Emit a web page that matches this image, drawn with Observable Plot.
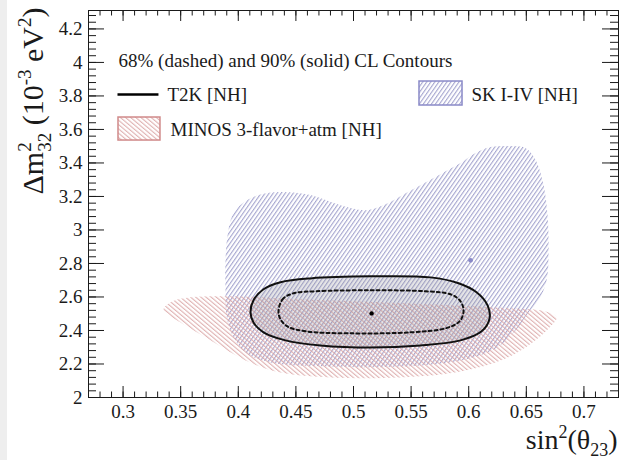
<!DOCTYPE html>
<html><head><meta charset="utf-8">
<script src="https://cdn.jsdelivr.net/npm/d3@7"></script>
<script src="https://cdn.jsdelivr.net/npm/@observablehq/plot@0.6"></script>
<style>
html,body{margin:0;padding:0;}
body{background:linear-gradient(to right,#eeeeee 0,#eeeeee 7px,#ffffff 7px);}
</style>
</head><body>
<svg width="0" height="0" style="position:absolute">
  <defs>
    <pattern id="hatchSK" patternUnits="userSpaceOnUse" width="3.3" height="3.3" patternTransform="rotate(35)">
      <line x1="0.6" y1="-1" x2="0.6" y2="4.3" stroke="#9898c8" stroke-width="0.95"/>
    </pattern>
    <pattern id="hatchMINOS" patternUnits="userSpaceOnUse" width="3.3" height="3.3" patternTransform="rotate(-50)">
      <line x1="0.6" y1="-1" x2="0.6" y2="4.3" stroke="#dba6a6" stroke-width="0.95"/>
    </pattern>
  </defs>
</svg>
<div id="chart"></div>
<script>
// ---- axes ----
const xDomain = [0.27, 0.73];
const yDomain = [2.0, 4.31];
const xMajor = [0.3, 0.35, 0.4, 0.45, 0.5, 0.55, 0.6, 0.65, 0.7];
const xTickLabels = ["0.3", "0.35", "0.4", "0.45", "0.5", "0.55", "0.6", "0.65", "0.7"];
const yMajor = [2.0, 2.2, 2.4, 2.6, 2.8, 3.0, 3.2, 3.4, 3.6, 3.8, 4.0, 4.2];
const yTickLabels = ["2", "2.2", "2.4", "2.6", "2.8", "3", "3.2", "3.4", "3.6", "3.8", "4", "4.2"];
const xMinorStep = 0.01;
const yMinorStep = 0.04;

// ---- SK I-IV [NH] 90% region ----
const skX = [0.3898,0.3889,0.3889,0.3907,0.3950,0.4037,0.4176,0.4367,0.4627,0.4888,0.5105,0.5278,0.5408,0.5582,0.5756,0.5929,0.6059,0.6190,0.6363,0.6493,0.6580,0.6650,0.6684,0.6693,0.6676,0.6606,0.6519,0.6407,0.6233,0.5929,0.5408,0.4801,0.4280,0.4063,0.3950];
const skY = [2.490,2.640,2.819,2.968,3.088,3.160,3.208,3.226,3.208,3.148,3.118,3.154,3.202,3.267,3.333,3.399,3.459,3.495,3.501,3.489,3.417,3.267,3.088,2.879,2.699,2.580,2.508,2.401,2.293,2.221,2.185,2.185,2.209,2.269,2.371];
const skBest = {x: 0.6016, y: 2.819};

// ---- MINOS 3-flavor+atm [NH] 90% region ----
const minosX = [0.3351,0.3429,0.3585,0.3933,0.4540,0.5235,0.5842,0.6363,0.6667,0.6763,0.6710,0.6554,0.6320,0.5929,0.5408,0.4801,0.4367,0.4063,0.3759,0.3499,0.3386];
const minosY = [2.526,2.574,2.598,2.604,2.586,2.568,2.550,2.532,2.514,2.478,2.424,2.329,2.233,2.155,2.120,2.120,2.149,2.221,2.341,2.448,2.496];

// ---- T2K [NH] contours ----
const t2k90X = [0.4106,0.4132,0.4219,0.4367,0.4627,0.5148,0.5669,0.5912,0.6068,0.6164,0.6181,0.6112,0.5929,0.5582,0.5148,0.4714,0.4410,0.4219,0.4132];
const t2k90Y = [2.508,2.580,2.646,2.688,2.711,2.723,2.717,2.682,2.628,2.550,2.472,2.395,2.341,2.311,2.299,2.311,2.341,2.389,2.448];
const t2k68X = [0.4349,0.4384,0.4480,0.4670,0.5148,0.5625,0.5842,0.5929,0.5955,0.5920,0.5799,0.5495,0.4974,0.4584,0.4427,0.4367];
const t2k68Y = [2.514,2.586,2.622,2.634,2.640,2.634,2.616,2.574,2.514,2.454,2.413,2.389,2.383,2.395,2.424,2.466];
const t2kBest = {x: 0.5157, y: 2.502};

// ---- texts ----
const headerText = "68% (dashed) and 90% (solid) CL Contours";
const legendLabels = ["T2K [NH]", "MINOS 3-flavor+atm [NH]", "SK I-IV [NH]"];
const xTitleParts = [{t:"sin"},{t:"2",shift:-11,size:18},{t:"(θ"},{t:"23",shift:7,size:18},{t:")"}];
const yTitleParts = [{t:"Δm"},{t:"2",shift:-12,size:19},{t:"32",shift:8,size:19,dx:-9.5},{t:" (10"},{t:"-3",shift:-12,size:19},{t:" eV"},{t:"2",shift:-12,size:19},{t:")"}];

// ---- layout ----
const W = 632, H = 460, mL = 88, mR = 14, mT = 10, mB = 63;
const innerW = W - mL - mR, innerH = H - mT - mB;
const font = "'Liberation Serif','Times New Roman',serif";

const zip = (xs, ys) => xs.map((x, i) => ({x, y: ys[i]}));
const sk = zip(skX, skY), minos = zip(minosX, minosY);
const t90 = zip(t2k90X, t2k90Y), t68 = zip(t2k68X, t2k68Y);
const rangeStep = (a, b, s) => d3.range(Math.round(a / s), Math.round(b / s) + 1).map(k => +(k * s).toFixed(4));
const xMinor = rangeStep(xDomain[0], xDomain[1], xMinorStep).filter(v => v >= xDomain[0] && v <= xDomain[1]);
const yMinor = rangeStep(yDomain[0], yDomain[1], yMinorStep).filter(v => v >= yDomain[0] && v <= yDomain[1]);

// legend placed in frame-relative (NDC) units, like ROOT TLegend
const nx = f => xDomain[0] + f * (xDomain[1] - xDomain[0]);
const ny = f => yDomain[0] + f * (yDomain[1] - yDomain[0]);

const ink = "#1a1a1a";
const chart = Plot.plot({
  width: W, height: H,
  marginLeft: mL, marginRight: mR, marginTop: mT, marginBottom: mB,
  style: {fontFamily: font, fontSize: "19px", background: "transparent", color: ink},
  x: {domain: xDomain, label: null},
  y: {domain: yDomain, label: null},
  marks: [
    // regions
    Plot.line(sk, {x: "x", y: "y", curve: "catmull-rom-closed", fill: "url(#hatchSK)", stroke: "none"}),
    Plot.line(minos, {x: "x", y: "y", curve: "catmull-rom-closed", fill: "url(#hatchMINOS)", stroke: "none"}),
    Plot.line(t90, {x: "x", y: "y", curve: "catmull-rom-closed", fill: "#8a8a92", fillOpacity: 0.22, stroke: "#111", strokeWidth: 2}),
    Plot.line(t68, {x: "x", y: "y", curve: "catmull-rom-closed", fill: "none", stroke: "#111", strokeWidth: 2, strokeDasharray: "3,3"}),
    Plot.dot([t2kBest], {x: "x", y: "y", r: 2.2, fill: "#000", stroke: "none"}),
    Plot.dot([skBest], {x: "x", y: "y", r: 2.4, fill: "#8a8ac8", stroke: "none"}),
    // inward ticks (ROOT style) on all four sides
    Plot.tickX(xMajor, {x: d => d, insetTop: innerH - 11, stroke: ink}),
    Plot.tickX(xMinor, {x: d => d, insetTop: innerH - 5.5, stroke: ink}),
    Plot.tickX(xMajor, {x: d => d, insetBottom: innerH - 11, stroke: ink}),
    Plot.tickX(xMinor, {x: d => d, insetBottom: innerH - 5.5, stroke: ink}),
    Plot.tickY(yMajor, {y: d => d, insetRight: innerW - 16, stroke: ink}),
    Plot.tickY(yMinor, {y: d => d, insetRight: innerW - 8, stroke: ink}),
    Plot.tickY(yMajor, {y: d => d, insetLeft: innerW - 16, stroke: ink}),
    Plot.tickY(yMinor, {y: d => d, insetLeft: innerW - 8, stroke: ink}),
    Plot.axisX({ticks: xMajor, tickSize: 0, tickPadding: 7, tickFormat: d => xTickLabels[xMajor.indexOf(d)], fontSize: 19}),
    Plot.axisY({ticks: yMajor, tickSize: 0, tickPadding: 6, tickFormat: d => yTickLabels[yMajor.indexOf(d)], fontSize: 19}),
    Plot.frame({stroke: ink, strokeWidth: 1}),
    // legend
    Plot.text([headerText], {x: nx(0.0566), y: ny(0.871), text: d => d, textAnchor: "start", fontSize: 19, fill: ink}),
    Plot.link([0], {x1: nx(0.0547), x2: nx(0.132), y1: ny(0.783), y2: ny(0.783), stroke: "#000", strokeWidth: 2.5}),
    Plot.text([legendLabels[0]], {x: nx(0.149), y: ny(0.783), text: d => d, textAnchor: "start", fontSize: 19, fill: ink}),
    Plot.rect([0], {x1: nx(0.0566), x2: nx(0.1358), y1: ny(0.664), y2: ny(0.7235), fill: "url(#hatchMINOS)", stroke: "#d08a8a", strokeWidth: 1.5}),
    Plot.text([legendLabels[1]], {x: nx(0.1547), y: ny(0.6925), text: d => d, textAnchor: "start", fontSize: 19, fill: ink}),
    Plot.rect([0], {x1: nx(0.6245), x2: nx(0.7057), y1: ny(0.7545), y2: ny(0.8165), fill: "url(#hatchSK)", stroke: "#8a8ac8", strokeWidth: 1.5}),
    Plot.text([legendLabels[2]], {x: nx(0.7226), y: ny(0.783), text: d => d, textAnchor: "start", fontSize: 19, fill: ink}),
    // axis titles (rich text filled in below)
    Plot.text(["x-title"], {frameAnchor: "bottom-right", dx: -1, dy: 51, text: d => d, textAnchor: "end", fontSize: 28, fill: ink, className: "xtitle"}),
    Plot.text(["y-title"], {frameAnchor: "top-left", dx: -67, dy: -3, rotate: -90, text: d => d, textAnchor: "end", fontSize: 30, fill: ink, className: "ytitle"})
  ]
});
document.getElementById("chart").appendChild(chart);

function rich(textEl, parts) {
  if (!textEl) return;
  const t = d3.select(textEl);
  t.text(null);
  let shift = 0;
  for (const p of parts) {
    const target = p.shift || 0;
    const ts = t.append("tspan").text(p.t);
    const dy = target - shift;
    if (dy) ts.attr("dy", dy);
    if (p.dx) ts.attr("dx", p.dx);
    if (p.size) ts.attr("font-size", p.size);
    shift = target;
  }
}
rich(chart.querySelector("g.xtitle text"), xTitleParts);
rich(chart.querySelector("g.ytitle text"), yTitleParts);
</script>
</body></html>
